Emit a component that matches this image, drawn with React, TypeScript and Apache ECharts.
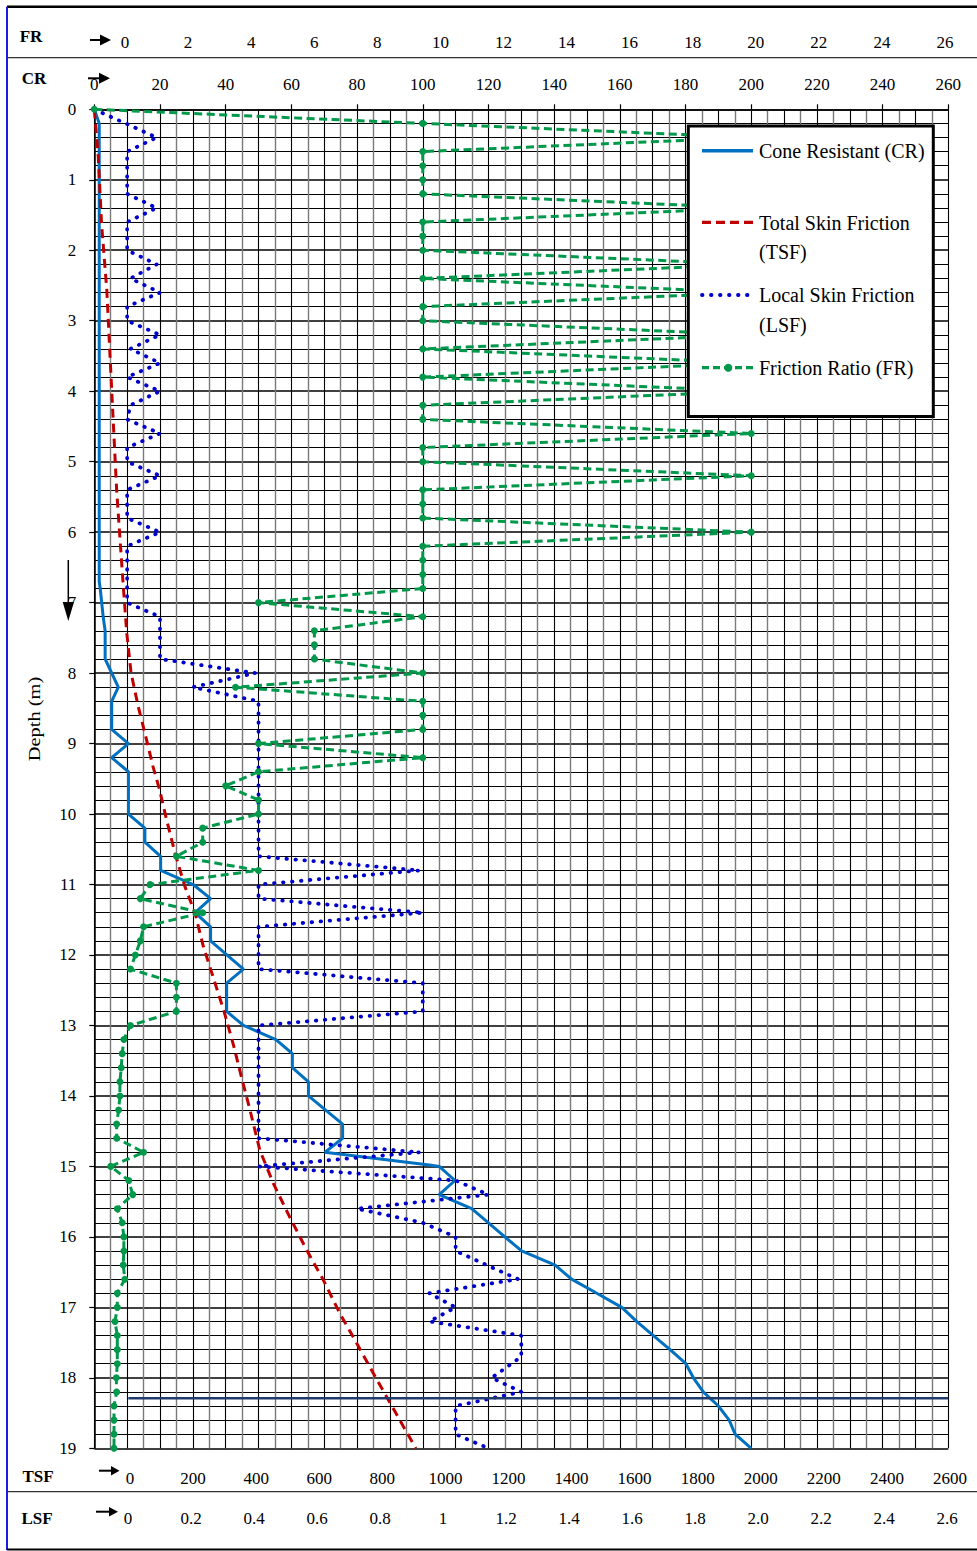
import React, { useEffect, useRef } from "react";
import * as echarts from "echarts";

const SERIF = "'Liberation Serif', 'Times New Roman', serif";

// ---- Tick labels ----
const CR_TICKS = { min: 0, max: 260, interval: 20 };
const FR_TICKS = { min: 0, max: 26, interval: 2 };
const TSF_TICKS = { min: 0, max: 2600, interval: 200 };
const LSF_TICK_LABELS = ["0", "0.2", "0.4", "0.6", "0.8", "1", "1.2", "1.4", "1.6", "1.8", "2.0", "2.2", "2.4", "2.6"];

// ---- Cone Resistant (CR) ----
const CR_DEPTH = [0, 0.2, 6.7, 6.8, 7.2, 7.4, 7.8, 8.2, 8.4, 8.8, 9.0, 9.2, 9.4, 10.0, 10.2, 10.4, 10.6, 10.8, 11.0, 11.2, 11.4,
  11.6, 11.8, 12.2, 12.4, 12.8, 13.0, 13.1, 13.2, 13.4, 13.6, 13.8, 14.0, 14.4, 14.6, 14.8, 14.98, 15.0, 15.2, 15.4, 15.6, 15.8,
  16.0, 16.2, 16.4, 16.6, 16.8, 17.0, 17.2, 17.4, 17.6, 17.8, 18.0, 18.2, 18.4, 18.6, 18.8, 19.0];
const CR_VALUES = [0, 1.5, 1.5, 1.8, 2.7, 3.3, 3.3, 7.3, 5.3, 5.3, 10.4, 5.3, 10.4, 10.4, 15.4, 15.4, 20.2, 20.2, 30.1, 35.4, 30.7,
  35.4, 35.4, 45.4, 40.3, 40.3, 45.4, 50.4, 55.3, 60.3, 60.3, 65.2, 65.2, 75.6, 75.6, 70.2, 102, 105, 109.8, 105, 114.9, 120,
  125, 130.1, 140.3, 145.3, 153, 160.6, 165.1, 170.2, 175.3, 180.1, 182.4, 185.4, 190, 193.3, 195.1, 200];

// ---- Total Skin Friction (TSF) ----
const TSF_DEPTH = [0, 0.67, 1.62, 2.56, 3.51, 4.46, 5.4, 6.35, 6.75, 7.44, 8.0, 8.48, 8.85, 9.33, 9.66, 10.08, 10.56, 11.03,
  11.41, 11.88, 12.36, 12.8, 13.3, 13.77, 14.2, 14.77, 15.24, 15.71, 16.19, 16.61, 17.09, 17.51, 17.94, 18.31, 18.69, 19.0];
const TSF_VALUES = [0, 12, 22, 38, 48, 58, 68, 82, 88, 99, 112, 134, 154, 179, 199, 220, 246, 276,
  307, 332, 365, 395, 425, 450, 474, 504, 545, 594, 647, 697, 748, 799, 850, 895, 941, 979];

// ---- Local Skin Friction (LSF) ----
const LSF_DEPTH = [0, 0.4, 0.6, 1.2, 1.4, 1.6, 2.0, 2.2, 2.4, 2.6, 2.8, 3.0, 3.2, 3.4, 3.6, 3.8, 4.0, 4.2, 4.4, 4.6,
  4.8, 5.0, 5.2, 5.4, 5.8, 6.0, 6.2, 7.0, 7.2, 7.8, 8.0, 8.2, 8.4, 10.6, 10.8, 11.0, 11.2, 11.4, 11.6, 12.2,
  12.4, 12.8, 13.0, 14.6, 14.8, 15.0, 15.2, 15.4, 15.6, 15.8, 16.0, 16.2, 16.6, 16.8, 17.0, 17.2, 17.4, 17.7, 18.0, 18.2,
  18.4, 18.8, 19.0];
const LSF_VALUES = [0, 0.19, 0.1, 0.1, 0.19, 0.1, 0.1, 0.19, 0.11, 0.2, 0.1, 0.1, 0.2, 0.11, 0.2, 0.1, 0.2, 0.11, 0.1, 0.2,
  0.1, 0.1, 0.2, 0.1, 0.1, 0.2, 0.1, 0.1, 0.2, 0.2, 0.49, 0.3, 0.5, 0.5, 0.99, 0.5, 0.5, 1.0, 0.5, 0.5,
  1.0, 1.0, 0.5, 0.5, 0.99, 0.5, 1.1, 1.2, 0.8, 1.0, 1.1, 1.1, 1.29, 1.02, 1.1, 1.02, 1.3, 1.3, 1.21, 1.3,
  1.1, 1.1, 1.2];

// ---- Friction Ratio (FR) ----
const FR_DEPTH = [
  0, 0.2, 0.4, 0.6, 0.8, 1.0, 1.2, 1.4, 1.6, 1.8, 2.0, 2.2, 2.4, 2.6, 2.8, 3.0, 3.2, 3.4, 3.6, 3.8,
  4.0, 4.2, 4.4, 4.6, 4.8, 5.0, 5.2, 5.4, 5.6, 5.8, 6.0, 6.2, 6.4, 6.6, 6.8, 7.0, 7.2, 7.4, 7.6, 7.8,
  8.0, 8.2, 8.4, 8.6, 8.8, 9.0, 9.2, 9.4, 9.6, 9.8, 10.0, 10.2, 10.4, 10.6, 10.8, 11.0, 11.2, 11.4, 11.6, 11.8,
  12.0, 12.2, 12.4, 12.6, 12.8, 13.0, 13.2, 13.4, 13.6, 13.8, 14.0, 14.2, 14.4, 14.6, 14.8, 15.0, 15.2, 15.4, 15.6, 15.8,
  16.0, 16.2, 16.4, 16.6, 16.8, 17.0, 17.2, 17.4, 17.6, 17.8, 18.0, 18.2, 18.4, 18.6, 18.8, 19.0];
const FR_VALUES = [
  0, 10, 20, 10, 10, 10, 10, 20, 10, 10, 10, 20, 10, 20, 10, 10, 20, 10, 20, 10,
  20, 10, 10, 20, 10, 10, 20, 10, 10, 10, 20, 10, 10, 10, 10, 5, 10, 6.7, 6.7, 6.7,
  10, 4.3, 10, 10, 10, 5, 10, 5, 4, 5, 5, 3.3, 3.3, 2.5, 5, 1.7, 1.4, 3.3, 1.5, 1.4,
  1.25, 1.1, 2.5, 2.5, 2.5, 1.1, 0.9, 0.85, 0.82, 0.78, 0.78, 0.74, 0.68, 0.68, 1.5, 0.5, 1.05, 1.17, 0.7, 0.85,
  0.9, 0.9, 0.88, 0.93, 0.7, 0.7, 0.63, 0.7, 0.7, 0.7, 0.67, 0.68, 0.6, 0.6, 0.6, 0.6];

// ---- Horizontal reference line ----
const REF_LINE_DEPTH = 18.29;
const REF_LINE_CR = [10.35, 260];

// scale factors from each quantity to the common plotting axis (CR units)
const FR_SCALE = 10;
const TSF_SCALE = 0.1;
const LSF_SCALE = 100;

const pairs = (xs: number[], ds: number[], k: number) => xs.map((v, i) => [v * k, ds[i]]);

const C_CR = "#0070C0";
const C_TSF = "#C00000";
const C_LSF = "#0000CC";
const C_FR = "#00984A";

function buildOption() {
  const labelAxisBase = {
    type: "value",
    axisLine: { show: false },
    axisTick: { show: false },
    splitLine: { show: false },
    axisLabel: {
      margin: 0,
      verticalAlign: "middle",
      fontFamily: SERIF,
      fontSize: 17,
      color: "#000",
      showMinLabel: true,
      showMaxLabel: true,
      formatter: (v: number) => String(v),
    },
  };

  const arrow = (x1: number, x2: number, y: number, hx: number, hl: number, hh: number) => [
    { type: "line", shape: { x1, y1: y, x2, y2: y }, style: { stroke: "#000", lineWidth: 2 } },
    { type: "polygon", shape: { points: [[hx, y - hh], [hx + hl, y], [hx, y + hh]] }, style: { fill: "#000" } },
  ];

  const rowLabel = (text: string, x: number, y: number) => ({
    type: "text",
    x,
    y,
    style: { text, fontFamily: SERIF, fontSize: 17, fontWeight: "bold", fill: "#000", align: "center", verticalAlign: "middle" },
  });

  const legendText = (text: string, y: number, lh: number) => ({
    type: "text",
    x: 759,
    y,
    style: { text, fontFamily: SERIF, fontSize: 20, fill: "#000", align: "left", verticalAlign: "top", lineHeight: lh },
  });

  const graphics: any[] = [
    // frame
    { type: "line", shape: { x1: 7, y1: 6.7, x2: 977, y2: 6.7 }, style: { stroke: "#000", lineWidth: 2.5 } },
    { type: "line", shape: { x1: 7, y1: 6.7, x2: 7, y2: 1550 }, style: { stroke: "#1a1ae0", lineWidth: 2 } },
    { type: "line", shape: { x1: 7, y1: 1549.5, x2: 977, y2: 1549.5 }, style: { stroke: "#000", lineWidth: 2 } },
    { type: "line", shape: { x1: 7, y1: 57.7, x2: 977, y2: 57.7 }, style: { stroke: "#333", lineWidth: 1.3 } },
    { type: "line", shape: { x1: 7, y1: 1491.7, x2: 977, y2: 1491.7 }, style: { stroke: "#333", lineWidth: 1.3 } },
    // row labels
    rowLabel("FR", 31, 36),
    rowLabel("CR", 34, 78),
    rowLabel("TSF", 38, 1476.7),
    rowLabel("LSF", 37, 1518.3),
    // arrows
    ...arrow(90, 101, 40, 100, 11, 5.5),
    ...arrow(88, 100, 78.3, 99, 11, 5.5),
    ...arrow(99, 112, 1470.7, 111, 8.5, 4.7),
    ...arrow(96, 110, 1511.7, 109, 9, 4.7),
    // depth label and arrow
    {
      type: "text",
      x: 34,
      y: 719,
      rotation: Math.PI / 2,
      scaleX: 1.2,
      style: { text: "Depth (m)", fontFamily: SERIF, fontSize: 17, fill: "#000", align: "center", verticalAlign: "middle" },
    },
    { type: "line", shape: { x1: 68.3, y1: 560, x2: 68.3, y2: 606 }, style: { stroke: "#000", lineWidth: 1.5 } },
    { type: "polygon", shape: { points: [[62.7, 602], [74, 602], [68.3, 621]] }, style: { fill: "#000" } },
    // legend box
    {
      type: "rect",
      shape: { x: 688.3, y: 126, width: 245, height: 290.5 },
      style: { fill: "#fff", stroke: "#000", lineWidth: 3 },
    },
    { type: "line", shape: { x1: 702, y1: 150.7, x2: 753, y2: 150.7 }, style: { stroke: C_CR, lineWidth: 3.5 } },
    {
      type: "text",
      x: 759,
      y: 150.7,
      style: { text: "Cone Resistant (CR)", fontFamily: SERIF, fontSize: 20, fill: "#000", align: "left", verticalAlign: "middle" },
    },
    { type: "line", shape: { x1: 702, y1: 222.3, x2: 753, y2: 222.3 }, style: { stroke: C_TSF, lineWidth: 3.2, lineDash: [9, 5] } },
    legendText("Total Skin Friction\n(TSF)", 209, 28.5),
    {
      type: "line",
      shape: { x1: 702, y1: 295, x2: 750, y2: 295 },
      style: { stroke: C_LSF, lineWidth: 3.8, lineDash: [0.5, 8.5], lineCap: "round" },
    },
    legendText("Local Skin Friction\n(LSF)", 280, 30),
    { type: "line", shape: { x1: 702, y1: 367.7, x2: 753, y2: 367.7 }, style: { stroke: C_FR, lineWidth: 3.2, lineDash: [7, 4] } },
    { type: "circle", shape: { cx: 728.3, cy: 367.7, r: 4 }, style: { fill: C_FR } },
    {
      type: "text",
      x: 759,
      y: 367.7,
      style: { text: "Friction Ratio (FR)", fontFamily: SERIF, fontSize: 20, fill: "#000", align: "left", verticalAlign: "middle" },
    },
  ].map((el, i) => ({ ...el, z: 100 + i, silent: true }));

  return {
    animation: false,
    backgroundColor: "#fff",
    grid: [
      { left: 94.3, top: 109.3, width: 854, height: 1339 },
      { left: 125, top: 42, width: 820, height: 1 },
      { left: 130, top: 1477, width: 820, height: 1 },
      { left: 128, top: 1517, width: 819, height: 1 },
    ],
    xAxis: [
      {
        gridIndex: 0,
        type: "value",
        position: "bottom",
        min: CR_TICKS.min,
        max: CR_TICKS.max,
        interval: 10,
        axisLine: { show: false },
        axisTick: { show: false },
        axisLabel: { show: false },
        splitLine: { show: true, lineStyle: { color: "#000", width: 1.1 } },
        minorTick: { show: false, splitNumber: 2 },
        minorSplitLine: { show: true, lineStyle: { color: "#7a7a7a", width: 1.4 } },
      },
      {
        gridIndex: 0,
        type: "value",
        position: "top",
        min: CR_TICKS.min,
        max: CR_TICKS.max,
        interval: CR_TICKS.interval,
        axisLine: { show: true, onZero: false, lineStyle: { color: "#000", width: 1.5 } },
        axisTick: { show: true, inside: false, length: 5, lineStyle: { color: "#000", width: 1.2 } },
        axisLabel: { margin: 16, fontFamily: SERIF, fontSize: 17, color: "#000", showMinLabel: true, showMaxLabel: true },
        splitLine: { show: false },
      },
      { ...labelAxisBase, gridIndex: 1, position: "top", min: FR_TICKS.min, max: FR_TICKS.max, interval: FR_TICKS.interval },
      { ...labelAxisBase, gridIndex: 2, position: "bottom", min: TSF_TICKS.min, max: TSF_TICKS.max, interval: TSF_TICKS.interval },
      {
        ...labelAxisBase,
        gridIndex: 3,
        position: "bottom",
        min: 0,
        max: 2.6,
        interval: 0.2,
        axisLabel: {
          ...labelAxisBase.axisLabel,
          formatter: (v: number) => LSF_TICK_LABELS[Math.round(v / 0.2)] ?? "",
        },
      },
    ],
    yAxis: [
      {
        gridIndex: 0,
        type: "value",
        inverse: true,
        min: 0,
        max: 19,
        interval: 1,
        axisLine: { show: true, onZero: false, lineStyle: { color: "#000", width: 1.5 } },
        axisTick: { show: true, length: 5, lineStyle: { color: "#000", width: 1.2 } },
        axisLabel: { margin: 18, fontFamily: SERIF, fontSize: 17, color: "#000", showMinLabel: true, showMaxLabel: true },
        splitLine: { show: true, lineStyle: { color: "#000", width: 1.6 } },
        minorTick: { show: false, splitNumber: 5 },
        minorSplitLine: { show: true, lineStyle: { color: "#000", width: 1.1 } },
      },
      { gridIndex: 1, type: "value", min: 0, max: 1, show: false },
      { gridIndex: 2, type: "value", min: 0, max: 1, show: false },
      { gridIndex: 3, type: "value", min: 0, max: 1, show: false },
    ],
    series: [
      {
        name: "Cone Resistant (CR)",
        type: "line",
        xAxisIndex: 0,
        yAxisIndex: 0,
        data: pairs(CR_VALUES, CR_DEPTH, 1),
        symbol: "none",
        lineStyle: { color: C_CR, width: 3 },
        silent: true,
        z: 3,
      },
      {
        name: "Total Skin Friction (TSF)",
        type: "line",
        xAxisIndex: 0,
        yAxisIndex: 0,
        data: pairs(TSF_VALUES, TSF_DEPTH, TSF_SCALE),
        symbol: "none",
        lineStyle: { color: C_TSF, width: 3, type: [9, 6] },
        silent: true,
        z: 3,
      },
      {
        name: "Local Skin Friction (LSF)",
        type: "line",
        xAxisIndex: 0,
        yAxisIndex: 0,
        data: pairs(LSF_VALUES, LSF_DEPTH, LSF_SCALE),
        symbol: "none",
        lineStyle: { color: C_LSF, width: 3.8, type: [0.5, 8.5], cap: "round" },
        silent: true,
        z: 3,
      },
      {
        name: "Friction Ratio (FR)",
        type: "line",
        xAxisIndex: 0,
        yAxisIndex: 0,
        data: pairs(FR_VALUES, FR_DEPTH, FR_SCALE),
        symbol: "circle",
        symbolSize: 7,
        showSymbol: true,
        itemStyle: { color: C_FR },
        lineStyle: { color: C_FR, width: 3, type: [8, 4.5] },
        silent: true,
        z: 4,
      },
      {
        name: "Reference",
        type: "line",
        xAxisIndex: 0,
        yAxisIndex: 0,
        data: REF_LINE_CR.map((x) => [x, REF_LINE_DEPTH]),
        symbol: "none",
        lineStyle: { color: "#1F3A6B", width: 2.5 },
        silent: true,
        z: 3,
      },
    ],
    graphic: { elements: graphics },
  };
}

export default function App() {
  const ref = useRef<HTMLDivElement>(null);
  useEffect(() => {
    const chart = echarts.init(ref.current as HTMLDivElement, null, { renderer: "svg" });
    chart.setOption(buildOption() as any);
    return () => chart.dispose();
  }, []);
  return (
    <div
      ref={ref}
      style={{ position: "absolute", left: 0, top: 0, width: 977, height: 1551, background: "#fff" }}
    />
  );
}
